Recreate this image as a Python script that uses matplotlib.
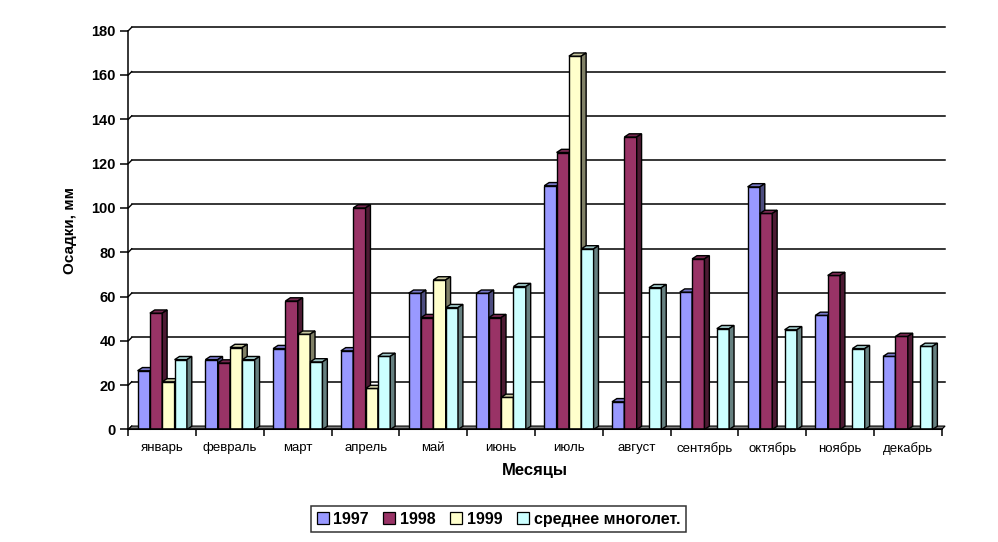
import numpy as np
import matplotlib
matplotlib.use("Agg")
import matplotlib.pyplot as plt
from matplotlib.patches import Polygon, Patch
from matplotlib.colors import to_rgb

months = ["январь", "февраль", "март", "апрель", "май", "июнь", "июль",
          "август", "сентябрь", "октябрь", "ноябрь", "декабрь"]
series_names = ["1997", "1998", "1999", "среднее многолет."]
v1997 = [26.5, 31.5, 36.5, 35.5, 61.5, 61.5, 110, 12.5, 62, 109.5, 51.5, 33]
v1998 = [52.5, 30, 58, 100, 50.5, 50.5, 125, 132, 77, 97.5, 69.5, 42]
v1999 = [21.5, 37, 43, 18.5, 67.5, 14.5, 168.5, np.nan, np.nan, np.nan, np.nan, np.nan]
vavg = [31.5, 31.5, 30.5, 33, 55, 64.5, 81.5, 64, 45.5, 45, 36.5, 37.5]
yticks = [0, 20, 40, 60, 80, 100, 120, 140, 160, 180]
colors = ["#9999FF", "#993366", "#FFFFCC", "#CCFFFF"]

plt.rcParams['font.family'] = ['Liberation Sans', 'DejaVu Sans']

fig = plt.figure(figsize=(9.98, 5.42), dpi=100)
ax = fig.add_axes([0.1286, 0.2076, 0.815, 0.7358])
ax.set_xlim(-0.5, 11.5)
ax.set_ylim(0, 180)

n = len(months)
x = np.arange(n)
bw = 0.182
bdx, bdy = 0.072, 1.45    # bar depth
wdx, wdy = 0.05, 1.55     # wall/floor depth

def shade(c, f):
    r, g, b = to_rgb(c)
    return (r * f, g * f, b * f)

# back gridlines with slanted connectors
for v in yticks[1:]:
    ax.plot([-0.5 + wdx, 11.5 + wdx], [v + wdy, v + wdy], color="black",
            lw=1.1, zorder=1, clip_on=False)
for v in yticks:
    ax.plot([-0.5, -0.5 + wdx], [v, v + wdy], color="black", lw=1.0,
            zorder=1, clip_on=False)

# floor
floor = Polygon([(-0.5, 0), (11.5, 0), (11.5 + wdx, wdy), (-0.5 + wdx, wdy)],
                closed=True, facecolor="#808080", edgecolor="black", lw=0.8,
                zorder=2, clip_on=False)
ax.add_patch(floor)

data = [v1997, v1998, v1999, vavg]
z = 3
for i in range(n):
    for k, vals in enumerate(data):
        h = vals[i]
        if h is None or np.isnan(h):
            continue
        xc = x[i] + (k - 1.5) * bw
        x0, x1 = xc - bw / 2, xc + bw / 2
        c = colors[k]
        ax.bar(xc, h, width=bw, color=c, edgecolor="black", lw=1.0, zorder=z)
        top = Polygon([(x0, h), (x1, h), (x1 + bdx, h + bdy), (x0 + bdx, h + bdy)],
                      closed=True, facecolor=shade(c, 0.78), edgecolor="black",
                      lw=1.0, zorder=z, clip_on=False)
        side = Polygon([(x1, 0), (x1 + bdx, bdy), (x1 + bdx, h + bdy), (x1, h)],
                       closed=True, facecolor=shade(c, 0.5), edgecolor="black",
                       lw=1.0, zorder=z, clip_on=False)
        ax.add_patch(top)
        ax.add_patch(side)
        z += 1

# axes styling
for s in ["top", "right"]:
    ax.spines[s].set_visible(False)
ax.spines["left"].set_linewidth(1.1)
ax.spines["bottom"].set_linewidth(1.1)
ax.spines["left"].set_zorder(200)
ax.spines["bottom"].set_zorder(200)

ax.set_yticks(yticks)
ax.set_yticklabels([str(t) for t in yticks], fontsize=10.5, fontweight="bold")
ax.tick_params(axis="y", length=6, width=1.1, pad=3)

ax.set_xticks(np.arange(-0.5, 12, 1.0))
ax.set_xticklabels([])
ax.set_xticks(x, minor=True)
ax.set_xticklabels(months, minor=True, fontsize=9.5)
ax.tick_params(axis="x", which="major", length=5, width=1.1, direction="out")
ax.tick_params(axis="x", which="minor", length=0, pad=9)

ax.set_ylabel("Осадки, мм", fontsize=11, fontweight="bold", labelpad=10)
ax.set_xlabel("Месяцы", fontsize=12, fontweight="bold", labelpad=6)

handles = [Patch(facecolor=c, edgecolor="black", lw=0.9) for c in colors]
leg = fig.legend(handles, series_names, loc="center", ncol=4,
                 bbox_to_anchor=(0.4995, 0.0424),
                 prop={"size": 11.5, "weight": "bold"},
                 frameon=True, fancybox=False, edgecolor="black",
                 handlelength=0.75, handleheight=0.75, handletextpad=0.3,
                 columnspacing=0.9, borderpad=0.35)
leg.get_frame().set_linewidth(1.1)

fig.savefig("out.png", dpi=100)
